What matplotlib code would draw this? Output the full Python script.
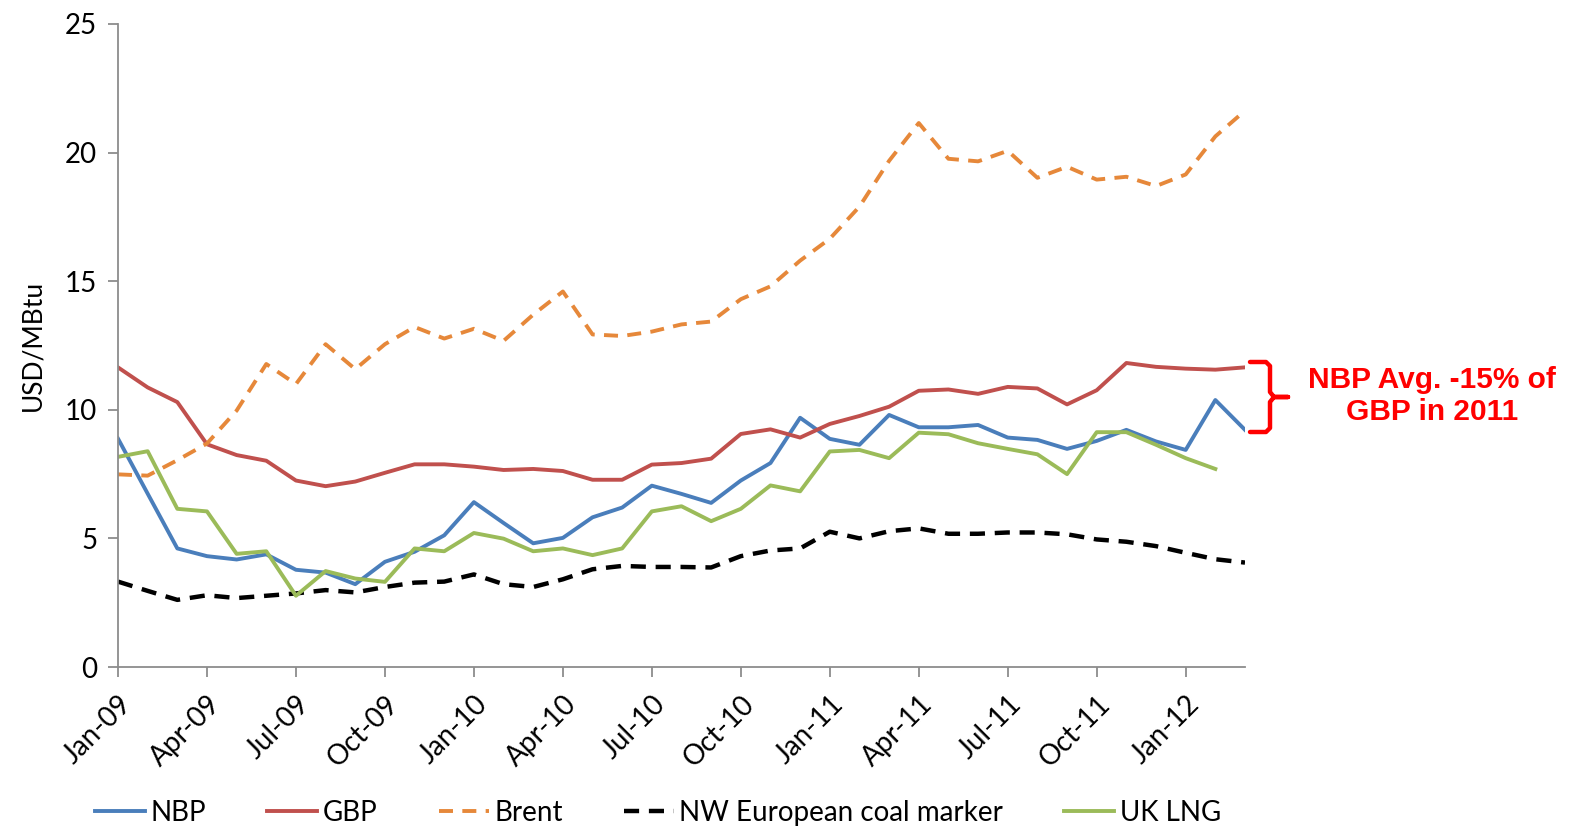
import numpy as np
import pandas as pd
import matplotlib
matplotlib.use("Agg")
import matplotlib.pyplot as plt
from matplotlib.lines import Line2D

plt.rcParams['font.family'] = ['Lato', 'DejaVu Sans']

# monthly, Jan-09 .. Mar-12
months = pd.date_range("2009-01-01", periods=39, freq="MS")

nbp = [8.88, 6.74, 4.61, 4.31, 4.18, 4.38, 3.78, 3.67, 3.22, 4.09, 4.48, 5.12,
       6.41, 5.60, 4.81, 5.02, 5.82, 6.20, 7.05, 6.73, 6.38, 7.25, 7.93, 9.69,
       8.87, 8.64, 9.80, 9.32, 9.32, 9.41, 8.92, 8.83, 8.48, 8.79, 9.22, 8.77,
       8.44, 10.38, 9.22]
gbp = [11.65, 10.87, 10.30, 8.66, 8.24, 8.02, 7.25, 7.03, 7.21, 7.55, 7.88, 7.88,
       7.79, 7.66, 7.70, 7.62, 7.28, 7.28, 7.87, 7.93, 8.10, 9.06, 9.24, 8.92,
       9.45, 9.76, 10.12, 10.74, 10.79, 10.62, 10.89, 10.83, 10.21, 10.76, 11.82, 11.67,
       11.60, 11.56, 11.65]
brent = [7.49, 7.44, 8.04, 8.69, 9.97, 11.78, 11.00, 12.55, 11.58, 12.55, 13.22, 12.77,
         13.15, 12.68, 13.70, 14.60, 12.93, 12.87, 13.04, 13.32, 13.43, 14.30, 14.80, 15.80,
         16.65, 17.90, 19.68, 21.15, 19.76, 19.66, 20.07, 19.02, 19.45, 18.95, 19.06, 18.70,
         19.15, 20.63, 21.63]
coal = [3.32, 2.96, 2.61, 2.79, 2.68, 2.77, 2.86, 2.99, 2.90, 3.11, 3.28, 3.32,
        3.60, 3.22, 3.11, 3.41, 3.80, 3.93, 3.89, 3.89, 3.87, 4.31, 4.53, 4.61,
        5.26, 5.00, 5.28, 5.39, 5.18, 5.18, 5.23, 5.23, 5.16, 4.96, 4.87, 4.70,
        4.44, 4.19, 4.06]
uk_lng = [8.17, 8.39, 6.15, 6.05, 4.40, 4.50, 2.77, 3.73, 3.44, 3.31, 4.61, 4.50,
          5.21, 4.99, 4.50, 4.61, 4.35, 4.61, 6.05, 6.25, 5.67, 6.15, 7.06, 6.83,
          8.38, 8.44, 8.12, 9.11, 9.05, 8.70, 8.48, 8.27, 7.50, 9.13, 9.13, 8.64,
          8.12, 7.70, np.nan]

tick_labels = [m.strftime("%b-%y") for m in months[::3]]
y_ticks = [0, 5, 10, 15, 20, 25]

W, H = 1575, 836
fig = plt.figure(figsize=(W / 100, H / 100), dpi=100)
ax = fig.add_axes([118 / W, 1 - 667 / H, (1245 - 118) / W, (667 - 24) / H])

x = np.arange(len(months))
ax.plot(x, nbp, color='#4A7EBB', lw=2.8, label='NBP', solid_joinstyle='round')
ax.plot(x, gbp, color='#C0504D', lw=2.8, label='GBP', solid_joinstyle='round')
ax.plot(x, brent, color='#E6883A', lw=2.8, dashes=(3.6, 2.4), label='Brent')
ax.plot(x, coal, color='black', lw=3.2, dashes=(3.4, 2.2), label='NW European coal marker')
ax.plot(x, uk_lng, color='#9BBB59', lw=2.8, label='UK LNG', solid_joinstyle='round')

ax.set_xlim(0, len(months) - 1)
ax.set_ylim(0, 25)
ax.set_yticks(y_ticks)
ax.set_xticks(x[::3])
ax.set_xticklabels(tick_labels, rotation=45, ha='right', rotation_mode='anchor')

for s in ['top', 'right']:
    ax.spines[s].set_visible(False)
for s in ['left', 'bottom']:
    ax.spines[s].set_color('#8C8C8C')
    ax.spines[s].set_linewidth(1.3)
ax.tick_params(axis='both', colors='#8C8C8C', length=7, width=1.3, labelcolor='black', labelsize=20)
ax.tick_params(axis='y', pad=8)
ax.tick_params(axis='x', pad=10)
ax.set_ylabel('USD/MBtu', fontsize=19, labelpad=14)

ax.legend(loc='center', bbox_to_anchor=(658 / W, 1 - 813 / H), bbox_transform=fig.transFigure,
          ncol=5, frameon=False, fontsize=20, handlelength=1.8, handletextpad=0.2,
          columnspacing=2.2)

# curly bracket next to the right end
def fx(px):
    return px / W

def fy(py):
    return 1 - py / H

bx = [1250, 1266, 1270, 1270, 1274, 1288, 1274, 1270, 1270, 1266, 1250]
by = [362, 362, 366, 392, 397, 397, 397, 402, 428, 432, 432]
fig.add_artist(Line2D([fx(v) for v in bx], [fy(v) for v in by], transform=fig.transFigure,
                      color='#FF0000', lw=3.2, solid_joinstyle='round', solid_capstyle='round'))

fig.text(fx(1432), fy(396), 'NBP Avg. -15% of\nGBP in 2011', color='#FF0000', fontsize=21.5,
         fontweight='bold', family=['Liberation Sans', 'DejaVu Sans'], ha='center', va='center',
         linespacing=1.2)

fig.savefig('out.png', dpi=100)
